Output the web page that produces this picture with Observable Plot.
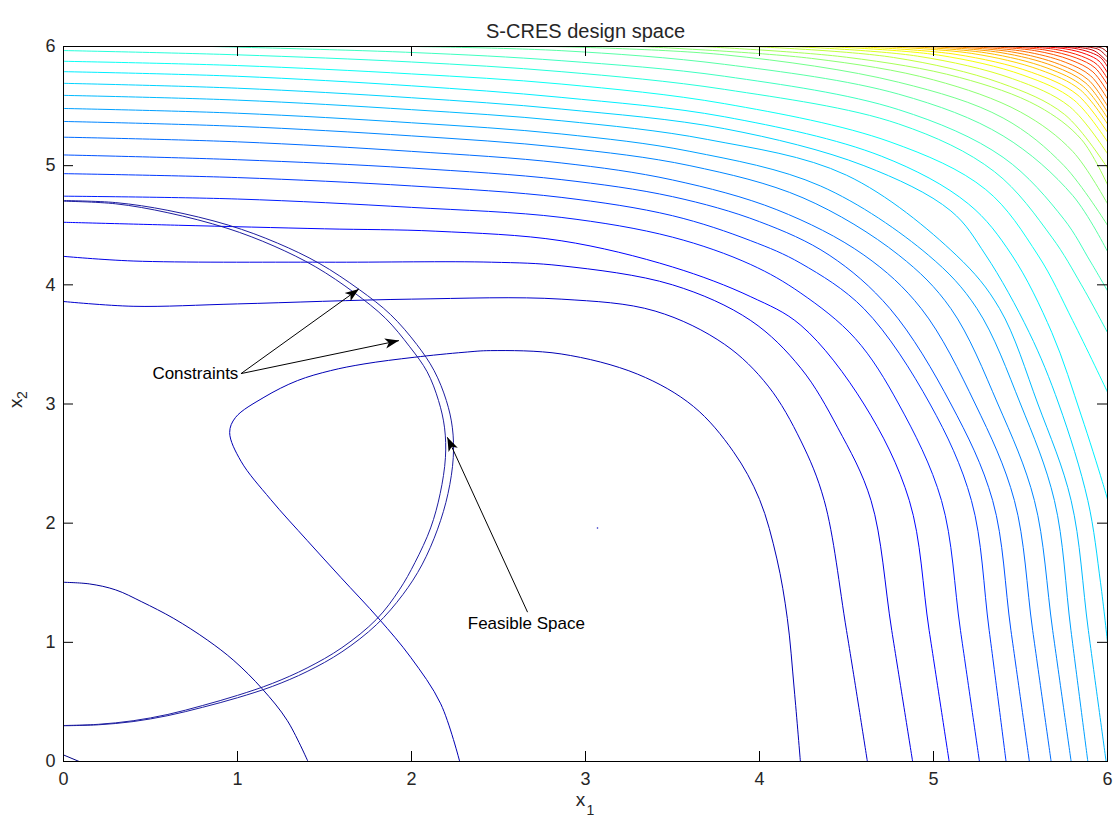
<!DOCTYPE html>
<html><head><meta charset="utf-8">
<script src="https://cdn.jsdelivr.net/npm/d3@7"></script>
<script src="https://cdn.jsdelivr.net/npm/@observablehq/plot@0.6"></script>
<style>body{margin:0;background:#fff;}</style>
</head><body><div id="chart"></div>
<script>
// ---- axis ticks ----
const xTicks = [0, 1, 2, 3, 4, 5, 6];
const yTicks = [0, 1, 2, 3, 4, 5, 6];

// ---- low-level (dark blue) contours near the origin ----
const innerLevels = [0, 1, 2];
const innerContours = [
  [[0,0.055],[0.09,0]],
  [[0,1.504],[0.15,1.49],[0.3,1.44],[0.45,1.34],[0.634,1.2],[0.826,1.02],[0.979,0.847],[1.142,0.61],[1.286,0.344],[1.405,0]],
  [[2.277,0],[2.168,0.484],[1.995,0.875],[1.813,1.197],[1.593,1.546],[1.401,1.854],[1.19,2.2],[1.02,2.52],[0.955,2.76],[0.989,2.888],[1.152,3.056],[1.344,3.196],[1.535,3.28],[1.727,3.336],[2.015,3.392],[2.302,3.434],[2.455,3.448],[2.86,3.42],[3.3,3.25],[3.62,2.98],[3.85,2.6],[4.0,2.2],[4.1,1.7],[4.16,1.2],[4.2,0.6],[4.235,0]]
];

// ---- outer contour family (level index, points) ----
const outerLevels = [3,4,5,6,7,8,9,10,11,12,13,14,15,16,17,18,19,20,21,22,23,24,25,26,27,28,29,30,31,32,33,34,35,36,37,38,39];
const outerContours = [
  [[0,3.86],[0.4,3.82],[1,3.84],[2,3.88],[2.86,3.88],[3.4,3.78],[3.8,3.5],[4.05,3.15],[4.238,2.69],[4.372,2.19],[4.5,1.1],[4.62,0]],
  [[0,4.239],[0.4,4.2],[1.5,4.19],[2.46,4.19],[2.86,4.16],[3.5,4.0],[3.95,3.7],[4.238,3.3],[4.45,2.8],[4.641,2.19],[4.76,1.1],[4.88,0]],
  [[0,4.525],[0.66,4.5],[1.5,4.47],[2.14,4.45],[2.86,4.37],[3.5,4.15],[3.95,3.9],[4.238,3.66],[4.6,3.0],[4.861,2.19],[4.975,1.1],[5.09,0]],
  [[0,4.744],[1,4.72],[2,4.65],[2.86,4.566],[3.5,4.4],[3.95,4.17],[4.238,3.93],[4.55,3.55],[4.8,3.0],[5.046,2.19],[5.155,1.1],[5.264,0]],
  [[0,4.933],[1,4.9],[2,4.83],[2.86,4.734],[3.5,4.58],[3.95,4.37],[4.238,4.18],[4.6,3.8],[4.98,3.0],[5.218,2.19],[5.32,1.1],[5.417,0]],
  [[0,5.09],[1,5.05],[2,4.98],[2.86,4.883],[3.5,4.74],[4.0,4.53],[4.4,4.25],[4.75,3.8],[5.1,3.0],[5.34,2.19],[5.445,1.1],[5.551,0]],
  [[0,5.239],[1,5.2],[2,5.12],[2.86,5.023],[3.5,4.88],[4.1,4.63],[4.6,4.25],[4.93,3.8],[5.24,3.0],[5.465,2.19],[5.57,1.1],[5.676,0]],
  [[0,5.371],[1,5.33],[2,5.25],[2.86,5.153],[3.6,5.0],[4.25,4.73],[4.8,4.25],[5.1,3.8],[5.37,3.0],[5.58,2.19],[5.685,1.1],[5.791,0]],
  [[0,5.48],[1,5.44],[2,5.36],[2.86,5.266],[3.6,5.12],[4.35,4.83],[4.97,4.25],[5.25,3.8],[5.5,3.0],[5.695,2.19],[5.79,1.1],[5.887,0]],
  [[0,5.59],[1,5.55],[2,5.47],[2.86,5.377],[3.7,5.22],[4.5,4.92],[5.13,4.25],[5.38,3.8],[5.6,3.0],[5.791,2.19],[5.89,1.1],[5.992,0]],
  [[0,5.691],[1,5.65],[2,5.57],[2.86,5.475],[3.8,5.31],[4.6,5.0],[5.1,4.62],[5.3,4.25],[5.55,3.6],[5.72,3.0],[5.887,2.19],[5.96,1.5],[6,1.0]],
  [[0,5.789],[1,5.75],[2,5.67],[2.86,5.573],[3.8,5.41],[4.7,5.08],[5.2,4.68],[5.45,4.25],[5.68,3.6],[5.85,2.9],[5.97,2.35],[6,2.2]],
  [[0,5.876],[1,5.84],[2,5.77],[2.86,5.685],[3.8,5.52],[4.75,5.2],[5.3,4.8],[5.6,4.25],[5.8,3.7],[6,3.1]],
  [[0,5.966],[1,5.93],[2,5.87],[2.86,5.789],[3.8,5.64],[4.8,5.35],[5.35,4.95],[5.68,4.4],[5.85,4.0],[6,3.6]],
  [[0.85,6],[2.0,5.95],[2.86,5.881],[3.8,5.75],[4.8,5.47],[5.4,5.07],[5.75,4.55],[5.9,4.2],[6,3.95]],
  [[2.0,6],[2.86,5.965],[3.8,5.85],[4.8,5.6],[5.4,5.25],[5.8,4.75],[6,4.28]],
  [[2.8,6],[3.8,5.93],[4.8,5.7],[5.4,5.4],[5.75,5.0],[6,4.5]],
  [[3.31,6],[4.3,5.9],[5.0,5.72],[5.5,5.45],[5.8,5.12],[6,4.68]],
  [[3.66,6],[4.5,5.91],[5.15,5.74],[5.6,5.5],[5.85,5.22],[6,4.84]],
  [[3.95,6],[4.77,5.908],[5.385,5.694],[5.754,5.429],[6,4.98]],
  [[4.18,6],[4.908,5.919],[5.454,5.73],[5.782,5.496],[6,5.1]],
  [[4.38,6],[5.028,5.928],[5.514,5.76],[5.806,5.552],[6,5.2]],
  [[4.54,6],[5.124,5.935],[5.562,5.784],[5.825,5.597],[6,5.28]],
  [[4.7,6],[5.22,5.942],[5.61,5.805],[5.844,5.636],[6,5.35]],
  [[4.84,6],[5.304,5.946],[5.652,5.82],[5.861,5.664],[6,5.4]],
  [[4.97,6],[5.382,5.95],[5.691,5.835],[5.876,5.692],[6,5.45]],
  [[5.08,6],[5.448,5.955],[5.724,5.85],[5.89,5.72],[6,5.5]],
  [[5.19,6],[5.514,5.96],[5.757,5.868],[5.903,5.754],[6,5.56]],
  [[5.3,6],[5.58,5.966],[5.79,5.886],[5.916,5.787],[6,5.62]],
  [[5.4,6],[5.64,5.971],[5.82,5.904],[5.928,5.821],[6,5.68]],
  [[5.5,6],[5.7,5.976],[5.85,5.919],[5.94,5.849],[6,5.73]],
  [[5.6,6],[5.76,5.98],[5.88,5.934],[5.952,5.877],[6,5.78]],
  [[5.68,6],[5.808,5.985],[5.904,5.949],[5.962,5.905],[6,5.83]],
  [[5.76,6],[5.856,5.988],[5.928,5.961],[6,5.87]],
  [[5.84,6],[5.904,5.992],[5.952,5.973],[6,5.91]],
  [[5.92,6],[5.97,5.985],[6,5.95]],
  [[5.99,6],[6,5.985]]
];

// ---- the two constraint boundaries ----
const constraintOuter = [[0,0.3],[0.2,0.308],[0.4,0.335],[0.6,0.385],[0.8,0.455],[1.0,0.535],[1.2,0.63],[1.4,0.755],[1.6,0.92],[1.8,1.15],[1.95,1.4],[2.06,1.65],[2.15,1.95],[2.21,2.25],[2.24,2.55],[2.235,2.8],[2.2,3.03],[2.13,3.28],[2.03,3.5],[1.88,3.75],[1.7,3.96],[1.47,4.18],[1.23,4.35],[0.95,4.5],[0.6,4.625],[0.3,4.69],[0,4.707]];
const constraintInner = [[0,0.302],[0.2,0.312],[0.4,0.342],[0.6,0.395],[0.8,0.47],[1.0,0.555],[1.2,0.655],[1.4,0.785],[1.6,0.955],[1.8,1.195],[1.93,1.44],[2.02,1.67],[2.11,1.96],[2.165,2.25],[2.195,2.55],[2.19,2.8],[2.155,3.03],[2.09,3.27],[1.99,3.48],[1.85,3.72],[1.67,3.935],[1.45,4.15],[1.21,4.325],[0.94,4.475],[0.6,4.605],[0.3,4.68],[0,4.702]];

// tiny isolated contour point
const spotX = [3.069], spotY = [1.96];

// ---- annotations ----
const arrowX1 = [1.02, 1.02, 2.667];
const arrowY1 = [3.255, 3.255, 1.253];
const arrowX2 = [1.698, 1.928, 2.206];
const arrowY2 = [3.966, 3.532, 2.721];
const labelText = ["Constraints", "Feasible Space"];
const labelX = [1.005, 2.66];
const labelY = [3.255, 1.155];
const labelAnchor = ["end", "middle"];

// ---- jet colormap ----
const jet = t => {
  const c = v => Math.max(0, Math.min(1, v));
  const r = c(Math.min(4*t - 1.5, -4*t + 4.5));
  const g = c(Math.min(4*t - 0.5, -4*t + 3.5));
  const b = c(Math.min(4*t + 0.5, -4*t + 2.5));
  return `rgb(${Math.round(r*255)},${Math.round(g*255)},${Math.round(b*255)})`;
};

const rows = [];
innerContours.forEach((pts, i) => pts.forEach(([x, y]) => rows.push({id: "i" + i, level: innerLevels[i], x, y})));
outerContours.forEach((pts, i) => pts.forEach(([x, y]) => rows.push({id: "o" + i, level: outerLevels[i], x, y})));
const cRows = [];
constraintOuter.forEach(([x, y]) => cRows.push({id: "a", x, y}));
constraintInner.forEach(([x, y]) => cRows.push({id: "b", x, y}));
const arrows = arrowX1.map((d, i) => ({x1: d, y1: arrowY1[i], x2: arrowX2[i], y2: arrowY2[i]}));
const labels = labelText.map((t, i) => ({t, x: labelX[i], y: labelY[i], a: labelAnchor[i]}));
const spots = spotX.map((x, i) => ({x, y: spotY[i]}));

const W = 1116, H = 821, mL = 63, mR = 9, mT = 46, mB = 60;
const fw = W - mL - mR, fh = H - mT - mB, tk = 10;

const chart = Plot.plot({
  width: W, height: H,
  marginLeft: mL, marginRight: mR, marginTop: mT, marginBottom: mB,
  style: {fontFamily: "'Liberation Sans', Arial, sans-serif", fontSize: "18px", background: "#fff", color: "#262626", overflow: "visible"},
  x: {domain: [0, 6], label: null},
  y: {domain: [0, 6], label: null},
  color: {type: "linear", domain: [0, 39], interpolate: jet},
  marks: [
    Plot.line(rows, {x: "x", y: "y", z: "id", stroke: "level", strokeWidth: 1, curve: "catmull-rom", clip: true}),
    Plot.line(cRows, {x: "x", y: "y", z: "id", stroke: "#1e1ea0", strokeWidth: 1, curve: "catmull-rom", clip: true}),
    Plot.dot(spots, {x: "x", y: "y", r: 0.8, fill: "#2020c0", stroke: null}),
    Plot.link(arrows, {x1: "x1", y1: "y1", x2: "x2", y2: "y2", stroke: "#000", strokeWidth: 1}),
    Plot.text(labels.filter(d => d.a === "end"), {x: "x", y: "y", text: "t", textAnchor: "end", fontSize: 17, fill: "#000"}),
    Plot.text(labels.filter(d => d.a === "middle"), {x: "x", y: "y", text: "t", textAnchor: "middle", fontSize: 17, fill: "#000"}),
    Plot.frame({stroke: "#000", strokeWidth: 1}),
    Plot.tickX(xTicks, {x: d => d, insetTop: fh - tk, stroke: "#000"}),
    Plot.tickX(xTicks, {x: d => d, insetBottom: fh - tk, stroke: "#000"}),
    Plot.tickY(yTicks, {y: d => d, insetRight: fw - tk, stroke: "#000"}),
    Plot.tickY(yTicks, {y: d => d, insetLeft: fw - tk, stroke: "#000"}),
    Plot.axisX(xTicks, {tickSize: 0, tickPadding: 11, fontSize: 18, label: null, tickFormat: d => String(d)}),
    Plot.axisY(yTicks, {tickSize: 0, tickPadding: 8, fontSize: 18, label: null, tickFormat: d => String(d)}),
    Plot.text(["S-CRES design space"], {frameAnchor: "top", dy: -23, fontSize: 20}),
    Plot.text(["x"], {frameAnchor: "bottom", dx: -5, dy: 44, fontSize: 19}),
    Plot.text(["1"], {frameAnchor: "bottom", dx: 5, dy: 53, fontSize: 14}),
    Plot.text(["x"], {frameAnchor: "left", dx: -48, dy: 4, rotate: -90, fontSize: 19}),
    Plot.text(["2"], {frameAnchor: "left", dx: -41, dy: -5, rotate: -90, fontSize: 14})
  ]
});
document.getElementById("chart").appendChild(chart);

// filled arrow heads for the annotation links
const svg = d3.select(chart);
svg.append("defs").append("marker")
  .attr("id", "ahead").attr("viewBox", "0 -5 10 10")
  .attr("refX", 10).attr("refY", 0)
  .attr("markerWidth", 14).attr("markerHeight", 14)
  .attr("markerUnits", "userSpaceOnUse").attr("orient", "auto")
  .append("path").attr("d", "M0,-3.6L10,0L0,3.6L2.6,0Z").attr("fill", "#000");
svg.selectAll('g[aria-label="link"] path').attr("marker-end", "url(#ahead)");
</script></body></html>
